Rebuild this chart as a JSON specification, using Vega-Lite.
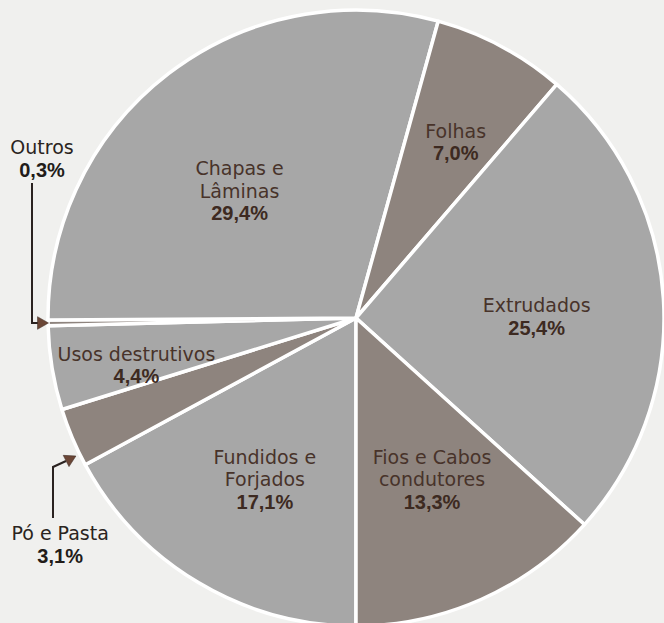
{
  "$schema": "https://vega.github.io/schema/vega-lite/v6.json",
  "width": 616,
  "height": 610,
  "autosize": {"type": "none"},
  "padding": {"left": 48, "top": 13, "right": 0, "bottom": 0},
  "background": "#f0f0ee",
  "config": {"view": {"stroke": null}},
  "datasets": {
    "shares": [
      {"name": "Fundidos e Forjados", "l1": "Fundidos e", "l2": "Forjados", "pct": "17,1%", "value": 17.1, "order": 0},
      {"name": "Pó e Pasta", "l1": "", "l2": "Pó e Pasta", "pct": "3,1%", "value": 3.1, "order": 1},
      {"name": "Usos destrutivos", "l1": "", "l2": "Usos destrutivos", "pct": "4,4%", "value": 4.4, "order": 2},
      {"name": "Outros", "l1": "", "l2": "Outros", "pct": "0,3%", "value": 0.3, "order": 3},
      {"name": "Chapas e Lâminas", "l1": "Chapas e", "l2": "Lâminas", "pct": "29,4%", "value": 29.4, "order": 4},
      {"name": "Folhas", "l1": "", "l2": "Folhas", "pct": "7,0%", "value": 7.0, "order": 5},
      {"name": "Extrudados", "l1": "", "l2": "Extrudados", "pct": "25,4%", "value": 25.4, "order": 6},
      {"name": "Fios e Cabos condutores", "l1": "Fios e Cabos", "l2": "condutores", "pct": "13,3%", "value": 13.3, "order": 7}
    ],
    "arrows": [
      {"arrow": "Outros", "step": 0, "x": -1.05195, "y": 0.43831},
      {"arrow": "Outros", "step": 1, "x": -1.05195, "y": -0.01623},
      {"arrow": "Outros", "step": 2, "x": -1.02597, "y": -0.01623},
      {"arrow": "Pó e Pasta", "step": 0, "x": -0.98377, "y": -0.64935},
      {"arrow": "Pó e Pasta", "step": 1, "x": -0.98377, "y": -0.48377},
      {"arrow": "Pó e Pasta", "step": 2, "x": -0.94156, "y": -0.46429}
    ],
    "heads": [
      {"arrow": "Outros", "x": -1.01623, "y": -0.01623},
      {"arrow": "Pó e Pasta", "x": -0.92532, "y": -0.45617}
    ]
  },
  "layer": [
    {
      "data": {"name": "shares"},
      "mark": {"type": "arc", "radius": 308, "stroke": "#ffffff", "strokeWidth": 3.5, "strokeJoin": "round"},
      "encoding": {
        "theta": {"field": "value", "type": "quantitative", "stack": true, "scale": {"domain": [0, 100], "range": [3.141592653589793, 9.42477796076938]}},
        "order": {"field": "order", "type": "quantitative"},
        "color": {
          "field": "name", "type": "nominal", "legend": null,
          "scale": {
            "domain": ["Fundidos e Forjados", "Pó e Pasta", "Usos destrutivos", "Outros", "Chapas e Lâminas", "Folhas", "Extrudados", "Fios e Cabos condutores"],
            "range": ["#a7a7a7", "#8e847e", "#a7a7a7", "#8e847e", "#a7a7a7", "#8e847e", "#a7a7a7", "#8e847e"]
          }
        }
      }
    },
    {
      "data": {"name": "shares"},
      "mark": {
        "type": "text", "font": "DejaVu Sans", "fontSize": 19, "align": "center", "baseline": "middle", "radius": 180,
        "fill": {"expr": "datum.order == 1 || datum.order == 3 ? '#2a2420' : '#48332a'"},
        "dx": {"expr": "[1, -130, -42, -134, -7, 15, 1, 3][datum.order]"},
        "dy": {"expr": "[30, 169, 30, -150, 39, -5, 22, 20][datum.order] - 22.5"}
      },
      "encoding": {
        "theta": {"field": "value", "type": "quantitative", "stack": true},
        "order": {"field": "order", "type": "quantitative"},
        "text": {"field": "l2", "type": "nominal"}
      }
    },
    {
      "data": {"name": "shares"},
      "mark": {
        "type": "text", "font": "DejaVu Sans", "fontSize": 19, "align": "center", "baseline": "middle", "radius": 180,
        "fill": "#48332a",
        "dx": {"expr": "[1, -130, -42, -134, -7, 15, 1, 3][datum.order]"},
        "dy": {"expr": "[30, 169, 30, -150, 39, -5, 22, 20][datum.order] - 45"}
      },
      "encoding": {
        "theta": {"field": "value", "type": "quantitative", "stack": true},
        "order": {"field": "order", "type": "quantitative"},
        "text": {"field": "l1", "type": "nominal"}
      }
    },
    {
      "data": {"name": "shares"},
      "mark": {
        "type": "text", "font": "Liberation Sans", "fontWeight": "bold", "fontSize": 20, "align": "center", "baseline": "middle", "radius": 180,
        "fill": {"expr": "datum.order == 1 || datum.order == 3 ? '#221c19' : '#3d2a21'"},
        "dx": {"expr": "[1, -130, -42, -134, -7, 15, 1, 3][datum.order]"},
        "dy": {"expr": "[30, 169, 30, -150, 39, -5, 22, 20][datum.order]"}
      },
      "encoding": {
        "theta": {"field": "value", "type": "quantitative", "stack": true},
        "order": {"field": "order", "type": "quantitative"},
        "text": {"field": "pct", "type": "nominal"}
      }
    },
    {
      "data": {"name": "arrows"},
      "mark": {"type": "line", "color": "#2a2220", "strokeWidth": 2},
      "encoding": {
        "x": {"field": "x", "type": "quantitative", "axis": null, "scale": {"domain": [-1, 1], "nice": false, "zero": false}},
        "y": {"field": "y", "type": "quantitative", "axis": null, "scale": {"domain": [-0.99026, 0.99026], "nice": false, "zero": false}},
        "detail": {"field": "arrow", "type": "nominal"},
        "order": {"field": "step", "type": "quantitative"}
      }
    },
    {
      "data": {"name": "heads"},
      "mark": {
        "type": "point", "shape": "triangle-right", "filled": true, "size": 160, "opacity": 1,
        "fill": "#6b4636", "stroke": "#3a2820", "strokeWidth": 0.5,
        "angle": {"expr": "datum.arrow == 'Pó e Pasta' ? 333 : 0"}
      },
      "encoding": {
        "x": {"field": "x", "type": "quantitative"},
        "y": {"field": "y", "type": "quantitative"}
      }
    }
  ]
}
